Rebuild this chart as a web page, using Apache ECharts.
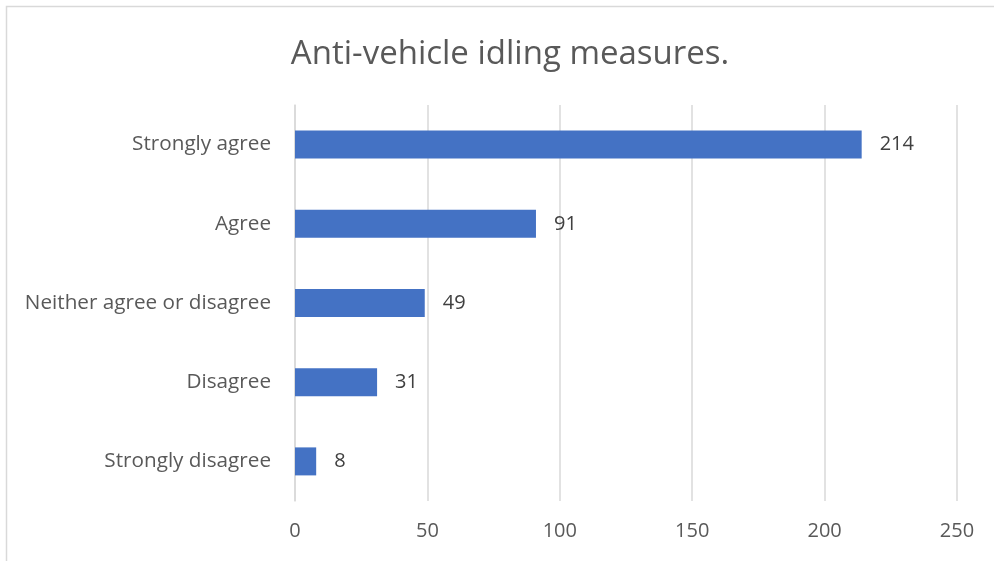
<!DOCTYPE html>
<html>
<head>
<meta charset="utf-8">
<script src="https://cdn.jsdelivr.net/npm/echarts@6/dist/echarts.min.js"></script>
<style>
html,body{margin:0;padding:0;background:#fff;}
#chart{width:994px;height:561px;}
</style>
</head>
<body>
<div id="chart"></div>
<script>
const titleText = "Anti-vehicle idling measures.";
const categories = ["Strongly disagree", "Disagree", "Neither agree or disagree", "Agree", "Strongly agree"];
const values = [8, 31, 49, 91, 214];
const xMin = 0, xMax = 250, xInterval = 50;

const FONT = "'Open Sans', 'Liberation Sans', sans-serif";
const chart = echarts.init(document.getElementById('chart'));
chart.setOption({
  backgroundColor: '#ffffff',
  animation: false,
  graphic: [{
    type: 'rect',
    shape: { x: 6.5, y: 6.5, width: 1000, height: 600 },
    style: { fill: 'none', stroke: '#d9d9d9', lineWidth: 1.5 },
    silent: true, z: -1
  }],
  title: {
    text: titleText,
    left: 505, top: 33, textAlign: 'center',
    textStyle: { fontFamily: FONT, fontSize: 33, fontWeight: 'normal', color: '#595959' }
  },
  grid: { left: 295, right: 37, top: 105, bottom: 60, containLabel: false },
  xAxis: {
    type: 'value', min: xMin, max: xMax, interval: xInterval,
    axisLine: { show: false }, axisTick: { show: false },
    splitLine: { show: true, lineStyle: { color: '#d9d9d9', width: 1.5 } },
    axisLabel: { fontFamily: FONT, fontSize: 20, color: '#595959', margin: 20 }
  },
  yAxis: {
    type: 'category', data: categories,
    axisLine: { show: true, lineStyle: { color: '#d9d9d9', width: 1.5 } },
    axisTick: { show: false },
    axisLabel: { fontFamily: FONT, fontSize: 20.7, color: '#595959', margin: 24 }
  },
  series: [{
    type: 'bar', data: values, barWidth: 28,
    itemStyle: { color: '#4472c4' },
    label: { show: true, position: 'right', distance: 18, fontFamily: FONT, fontSize: 20, color: '#404040' }
  }]
});
</script>
</body>
</html>
